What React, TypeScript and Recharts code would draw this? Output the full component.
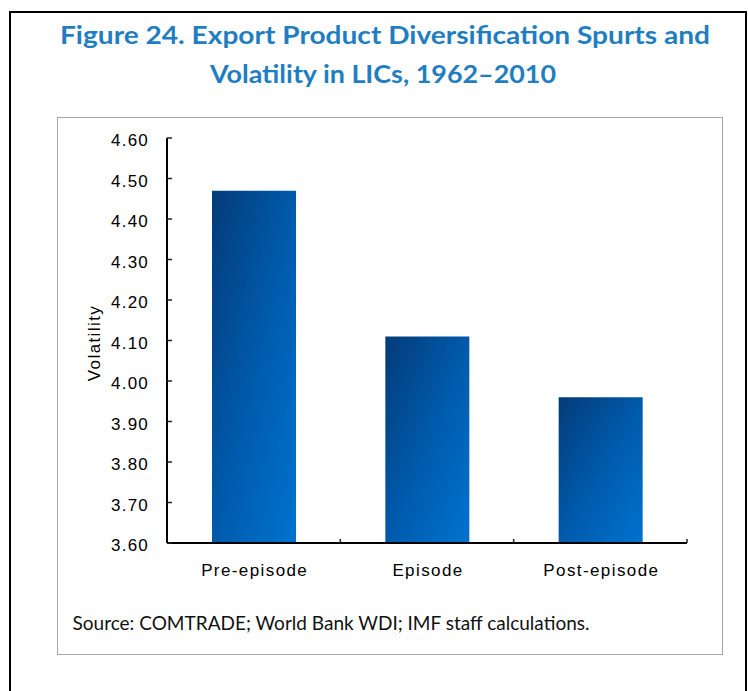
import React from "react";
import { BarChart, Bar, XAxis, YAxis } from "recharts";

const CATEGORIES = ["Pre-episode", "Episode", "Post-episode"];
const VOLATILITY = [4.47, 4.11, 3.96];
const Y_TICKS = [3.6, 3.7, 3.8, 3.9, 4.0, 4.1, 4.2, 4.3, 4.4, 4.5, 4.6];

const TITLE_LINES = [
  "Figure 24. Export Product Diversification Spurts and",
  "Volatility in LICs, 1962\u20132010",
];
const SOURCE = "Source: COMTRADE; World Bank WDI; IMF staff calculations.";
const Y_LABEL = "Volatility";

const data = CATEGORIES.map((name, i) => ({ name, value: VOLATILITY[i] }));

// plot area (px in the page)
const W = 748;
const H = 691;
const PLOT_LEFT = 167;
const PLOT_RIGHT = 687;
const PLOT_TOP = 138;
const PLOT_BOTTOM = 543;
const BAND = (PLOT_RIGHT - PLOT_LEFT) / CATEGORIES.length;

const AXIS_FONT = "'Liberation Sans', Arial, sans-serif";

const YTick = (props: any) => {
  const { y, payload } = props;
  return (
    <g>
      <line x1={PLOT_LEFT} x2={PLOT_LEFT + 5} y1={y} y2={y} stroke="#222" strokeWidth={1.5} />
      <text
        x={149}
        y={y}
        dy={8}
        textAnchor="end"
        fontFamily={AXIS_FONT}
        fontSize={17}
        letterSpacing={1.2}
        fill="#000"
      >
        {Number(payload.value).toFixed(2)}
      </text>
    </g>
  );
};

const XTick = (props: any) => {
  const { x, payload } = props;
  const bx = x + BAND / 2;
  return (
    <g>
      <line x1={bx} x2={bx} y1={PLOT_BOTTOM} y2={PLOT_BOTTOM - 4} stroke="#222" strokeWidth={1.5} />
      <text
        x={x + 1}
        y={PLOT_BOTTOM + 33}
        textAnchor="middle"
        fontFamily={AXIS_FONT}
        fontSize={17}
        letterSpacing={1.4}
        fill="#000"
      >
        {payload.value}
      </text>
    </g>
  );
};

export default function App() {
  return (
    <div style={{ position: "absolute", left: 0, top: 0, width: W, height: H, background: "#fff", overflow: "hidden" }}>
      {/* outer black frame */}
      <div
        style={{
          position: "absolute", left: 9, top: 11, width: 738, height: 720,
          border: "2px solid #000", boxSizing: "border-box",
        }}
      />
      {/* inner grey box */}
      <div
        style={{
          position: "absolute", left: 57, top: 117, width: 666, height: 538,
          border: "1.5px solid #a6a6a6", boxSizing: "border-box",
        }}
      />
      <div style={{ position: "absolute", left: 0, top: 0 }}>
        <BarChart width={W} height={H} data={data} margin={{ top: PLOT_TOP, right: W - PLOT_RIGHT, left: 67, bottom: 108 }}>
          <defs>
            <linearGradient id="barGrad" x1="0" y1="0" x2="1" y2="1">
              <stop offset="0%" stopColor="#043b78" />
              <stop offset="50%" stopColor="#005aab" />
              <stop offset="100%" stopColor="#0073d0" />
            </linearGradient>
          </defs>
          <XAxis
            dataKey="name"
            height={40}
            interval={0}
            axisLine={{ stroke: "#000", strokeWidth: 2 }}
            tickLine={false}
            tick={<XTick />}
          />
          <YAxis
            type="number"
            width={100}
            domain={[3.6, 4.6]}
            ticks={Y_TICKS}
            interval={0}
            allowDataOverflow
            axisLine={{ stroke: "#000", strokeWidth: 2 }}
            tickLine={false}
            tick={<YTick />}
          />
          <Bar dataKey="value" fill="url(#barGrad)" barSize={84} isAnimationActive={false} />
        </BarChart>
      </div>
      <svg width={W} height={H} style={{ position: "absolute", left: 0, top: 0, pointerEvents: "none" }}>
        <text
          x={385} y={44} textAnchor="middle" fontFamily="Lato, 'Open Sans', sans-serif"
          fontWeight={700} fontSize={25} fill="#1f7ec2" textLength={650} lengthAdjust="spacingAndGlyphs"
        >
          {TITLE_LINES[0]}
        </text>
        <text
          x={383} y={83} textAnchor="middle" fontFamily="Lato, 'Open Sans', sans-serif"
          fontWeight={700} fontSize={25} fill="#1f7ec2" textLength={346} lengthAdjust="spacingAndGlyphs"
        >
          {TITLE_LINES[1]}
        </text>
        <text
          x={94} y={343} transform="rotate(-90 94 343)" textAnchor="middle" dominantBaseline="central"
          fontFamily={AXIS_FONT} fontSize={17} letterSpacing={1.4} fill="#000"
        >
          {Y_LABEL}
        </text>
        <text
          x={72.5} y={630} fontFamily="Lato, 'Open Sans', sans-serif" fontSize={19} fill="#111"
          textLength={517} lengthAdjust="spacingAndGlyphs"
        >
          {SOURCE}
        </text>
      </svg>
    </div>
  );
}
